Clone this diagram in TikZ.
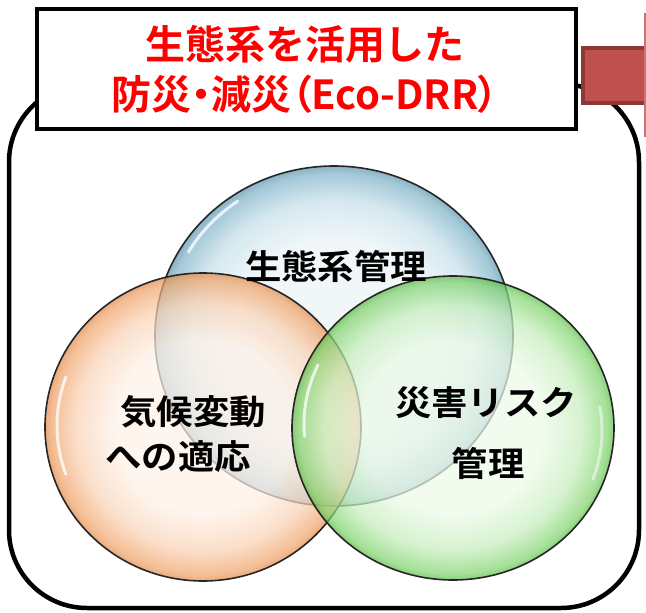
\documentclass[tikz,border=0pt]{standalone}
\usepackage{fontspec}
\usetikzlibrary{shapes.geometric}
\newfontfamily\jpb{Noto Sans CJK JP Bold}
\newfontfamily\jpbp{Noto Sans CJK JP Bold}[RawFeature=+palt]
\newfontfamily\jpbs{Noto Sans CJK JP Bold}[FakeStretch=1.07]
\definecolor{bbin}{HTML}{EBF4F7}
\definecolor{bbmid}{HTML}{C5DFE9}
\definecolor{bbout}{HTML}{7FB3C8}
\definecolor{bbrim}{HTML}{5F96AE}
\definecolor{obin}{HTML}{FEF1E7}
\definecolor{obmid}{HTML}{F9D3B6}
\definecolor{obout}{HTML}{F0A46A}
\definecolor{obrim}{HTML}{E08A4C}
\definecolor{gbin}{HTML}{ECF9E8}
\definecolor{gbmid}{HTML}{C6EEBC}
\definecolor{gbout}{HTML}{82D470}
\definecolor{gbrim}{HTML}{5DBB48}
\definecolor{arrowred}{HTML}{C0504D}
\definecolor{arrowdark}{HTML}{8C3836}
\pgfdeclareradialshading{bluebub}{\pgfpoint{0bp}{0bp}}{color(0bp)=(bbin); color(14bp)=(bbin); color(20bp)=(bbmid); color(24bp)=(bbout); color(25bp)=(bbrim); color(50bp)=(bbrim)}
\pgfdeclareradialshading{orangebub}{\pgfpoint{0bp}{0bp}}{color(0bp)=(obin); color(14bp)=(obin); color(20bp)=(obmid); color(24bp)=(obout); color(25bp)=(obrim); color(50bp)=(obrim)}
\pgfdeclareradialshading{greenbub}{\pgfpoint{0bp}{0bp}}{color(0bp)=(gbin); color(14bp)=(gbin); color(20bp)=(gbmid); color(24bp)=(gbout); color(25bp)=(gbrim); color(50bp)=(gbrim)}
\tikzset{
  bubble/.style={ellipse, inner sep=0pt, outer sep=0pt, shade, draw=black!85, line width=1.6pt, fill opacity=0.72},
  shine/.style={draw=white, line width=3pt, draw opacity=0.75, line cap=round},
  lbl/.style={font=\jpbs\fontsize{34}{40}\selectfont, text=black, inner sep=0pt},
  ttl/.style={font=\jpb\fontsize{40}{46}\selectfont, text=red, inner sep=0pt}
}
\begin{document}
\begin{tikzpicture}[x=1pt,y=-1pt]
\useasboundingbox (0,0) rectangle (646,613);
% outer rounded frame
\draw[line width=4.5pt, rounded corners=78pt] (9,84) rectangle (639,608);
% bubbles
\node[bubble, shading=bluebub, minimum width=358pt, minimum height=340pt] (eco) at (334,336) {};
\node[bubble, shading=orangebub, minimum width=316pt, minimum height=308pt] (clim) at (203,427) {};
\node[bubble, shading=greenbub, minimum width=322pt, minimum height=304pt] (risk) at (453,428) {};
% glossy highlights
\draw[shine] (eco.center) ++(150:168pt) arc[start angle=150, end angle=125, x radius=168pt, y radius=159pt];
\draw[shine] (clim.center) ++(160:146pt) arc[start angle=160, end angle=200, x radius=146pt, y radius=142pt];
\draw[shine] (risk.center) ++(155:149pt) arc[start angle=155, end angle=185, x radius=149pt, y radius=140pt];
\draw[shine, draw opacity=0.5] (risk.center) ++(-20:149pt) arc[start angle=-20, end angle=10, x radius=149pt, y radius=140pt];
% labels
\node[lbl] (ecol) at (336,266) {生態系管理};
\node[lbl] (clim1) at (193,412) {気候変動};
\node[lbl] (clim2) at (178,457) {への適応};
\node[lbl] (risk1) at (486,403) {災害リスク};
\node[lbl] (risk2) at (488,463) {管理};
% title box
\node[draw, line width=4pt, fill=white, minimum width=539pt, minimum height=120pt, inner sep=0pt] (titlebox) at (306.5,69) {};
\node[ttl] (t1) at (305,44) {生態系を活用した};
\node[ttl] (t2) at (305,94) {防災{\jpbp ・}減災{\jpbp （}Eco-DRR{\jpbp ）}};
% red arrow (cut off)
\node[draw=arrowdark, fill=arrowred, line width=4pt, minimum width=70pt, minimum height=55pt, inner sep=0pt, anchor=west] (bar) at (581,75.5) {};
\coordinate (headtop) at (645,13);
\coordinate (headbot) at (645,137);
\draw[arrowred!80, line width=1.5pt] (headtop) -- (headbot);
\end{tikzpicture}
\end{document}
